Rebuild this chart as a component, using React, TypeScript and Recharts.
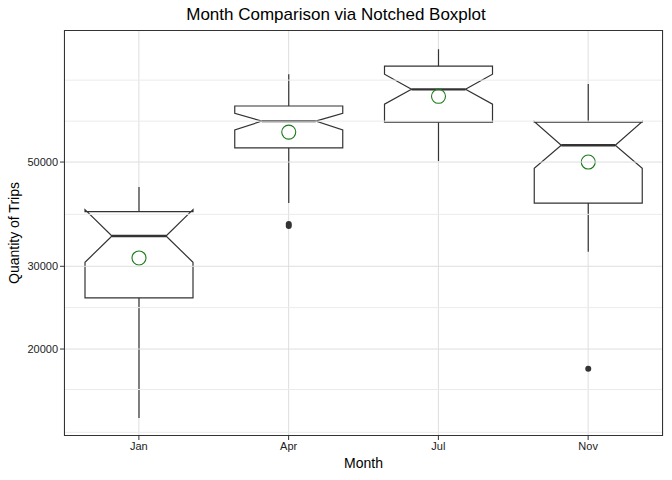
import React from 'react';
import { ComposedChart, Bar, XAxis, YAxis, CartesianGrid, ReferenceLine } from 'recharts';

const months = ['Jan', 'Apr', 'Jul', 'Nov'];
const whiskerLow = [14260, 40900, 50250, 32200];
const q1 = [25700, 53600, 60800, 40900];
const median = [34800, 61100, 71400, 54300];
const q3 = [39200, 65800, 80000, 60800];
const whiskerHigh = [44250, 76900, 86900, 73300];
const notchLow = [30600, 58500, 66400, 48500];
const notchHigh = [39600, 63500, 76900, 61000];
const means = [31250, 57900, 69000, 50000];
const outliers = [[], [36900, 36550], [], [18150]];
const yTicks = [20000, 30000, 50000];
const minorLines = [13300, 16400, 24500, 38700, 61100, 74700];

const data = months.map((m, i) => ({
  month: m, low: whiskerLow[i], q1: q1[i], med: median[i], q3: q3[i], high: whiskerHigh[i],
  nl: notchLow[i], nh: notchHigh[i], mean: means[i], out: outliers[i],
  range: [whiskerLow[i], whiskerHigh[i]],
}));

const BoxShape = (props: any) => {
  const { x, y, width, height, payload } = props;
  const lh = Math.log10(payload.high), ll = Math.log10(payload.low);
  const py = (v: number) => y + (height * (lh - Math.log10(v))) / (lh - ll);
  const cx = x + width / 2;
  const l = x, r = x + width, nl = x + width / 4, nr = x + width * 3 / 4;
  const pts = [
    [l, py(payload.q3)], [l, py(payload.nh)], [nl, py(payload.med)], [l, py(payload.nl)], [l, py(payload.q1)],
    [r, py(payload.q1)], [r, py(payload.nl)], [nr, py(payload.med)], [r, py(payload.nh)], [r, py(payload.q3)],
  ];
  return (
    <g>
      <line x1={cx} x2={cx} y1={py(payload.high)} y2={py(payload.q3)} stroke="#333" strokeWidth={1.2} />
      <line x1={cx} x2={cx} y1={py(payload.q1)} y2={py(payload.low)} stroke="#333" strokeWidth={1.2} />
      <polygon points={pts.map(p => p.join(',')).join(' ')} fill="#fff" stroke="#333" strokeWidth={1.2} />
      <line x1={nl} x2={nr} y1={py(payload.med)} y2={py(payload.med)} stroke="#333" strokeWidth={2.4} />
      <circle cx={cx} cy={py(payload.mean)} r={7} fill="none" stroke="#1a7a1a" strokeWidth={1.1} />
      {payload.out.map((o: number, k: number) => (
        <circle key={k} cx={cx} cy={py(o)} r={3} fill="#333" />
      ))}
    </g>
  );
};

export default function App() {
  return (
    <div style={{ position: 'absolute', left: 0, top: 0, width: 672, height: 480, fontFamily: 'Liberation Sans, Arial, sans-serif' }}>
      <div style={{ position: 'absolute', top: 5, width: 672, textAlign: 'center', fontSize: 17, color: '#000' }}>
        Month Comparison via Notched Boxplot
      </div>
      <div style={{ position: 'absolute', top: 455, left: 64, width: 599, textAlign: 'center', fontSize: 14 }}>Month</div>
      <div style={{ position: 'absolute', left: 14, top: 233, transform: 'translate(-50%,-50%) rotate(-90deg)', fontSize: 14, whiteSpace: 'nowrap' }}>
        Quantity of Trips
      </div>
      <ComposedChart width={672} height={480} data={data} margin={{ top: 30, right: 9, bottom: 0, left: 0 }}>
        <CartesianGrid horizontal={false} stroke="#dedede" />
        {minorLines.map(v => (
          <ReferenceLine key={v} y={v} stroke="#ebebeb" />
        ))}
        {yTicks.map(v => (
          <ReferenceLine key={'m' + v} y={v} stroke="#dedede" />
        ))}
        <XAxis dataKey="month" tick={{ fill: '#222', fontSize: 11 }} tickLine={{ stroke: '#333' }} axisLine={false} tickSize={4} height={44} />
        <YAxis scale="log" domain={[13060, 95500]} allowDataOverflow ticks={yTicks} width={64}
          tick={{ fill: '#222', fontSize: 11 }} tickLine={{ stroke: '#333' }} axisLine={false} tickSize={4} />
        <Bar dataKey="range" barSize={108} shape={<BoxShape />} isAnimationActive={false} />
      </ComposedChart>
      <div style={{ position: 'absolute', left: 64, top: 30, width: 599, height: 406, border: '1px solid #333', boxSizing: 'border-box', pointerEvents: 'none' }} />
    </div>
  );
}
